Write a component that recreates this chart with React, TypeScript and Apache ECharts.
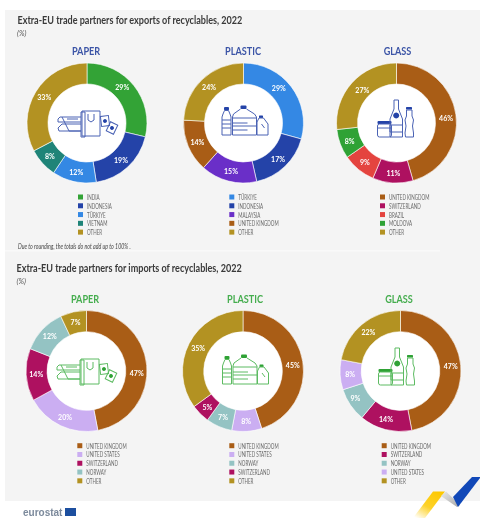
import React, { useEffect, useRef } from "react";
import * as echarts from "echarts";

const exportTitle = "Extra-EU trade partners for exports of recyclables, 2022";
const importTitle = "Extra-EU trade partners for imports of recyclables, 2022";
const unit = "(%)";
const note = "Due to rounding, the totals do not add up to 100% .";
const materials = ["PAPER", "PLASTIC", "GLASS"];

const expPaperNames = ["INDIA", "INDONESIA", "TÜRKIYE", "VIETNAM", "OTHER"];
const expPaperValues = [29, 19, 12, 8, 33];
const expPlasticNames = ["TÜRKIYE", "INDONESIA", "MALAYSIA", "UNITED KINGDOM", "OTHER"];
const expPlasticValues = [29, 17, 15, 14, 24];
const expGlassNames = ["UNITED KINGDOM", "SWITZERLAND", "BRAZIL", "MOLDOVA", "OTHER"];
const expGlassValues = [46, 11, 9, 8, 27];
const impPaperNames = ["UNITED KINGDOM", "UNITED STATES", "SWITZERLAND", "NORWAY", "OTHER"];
const impPaperValues = [47, 20, 14, 12, 7];
const impPlasticNames = ["UNITED KINGDOM", "UNITED STATES", "NORWAY", "SWITZERLAND", "OTHER"];
const impPlasticValues = [45, 8, 7, 5, 35];
const impGlassNames = ["UNITED KINGDOM", "SWITZERLAND", "NORWAY", "UNITED STATES", "OTHER"];
const impGlassValues = [47, 14, 9, 8, 22];

const partnerColors: Record<string, string> = {
  INDIA: "#33a336",
  INDONESIA: "#2443a8",
  "TÜRKIYE": "#3488e4",
  VIETNAM: "#1f8478",
  OTHER: "#b39222",
  "UNITED KINGDOM": "#a95d16",
  MALAYSIA: "#6a2fc8",
  SWITZERLAND: "#ae1160",
  BRAZIL: "#e4443f",
  MOLDOVA: "#2fa235",
  "UNITED STATES": "#cbaef2",
  NORWAY: "#94c3c3",
};

const FONT = "Lato, 'Liberation Sans', sans-serif";
const BLUE = "#3b54a6";
const GREEN = "#45ad4e";
const ICON_BLUE = "#4a62b4";
const ICON_GREEN = "#5dbb62";

type G = any;

function stroke(color: string) {
  return { stroke: color, fill: "none", lineWidth: 1 };
}
function rect(x: number, y: number, w: number, h: number, color: string, r = 0, extra: G = {}): G {
  return { type: "rect", shape: { x, y, width: w, height: h, r }, style: stroke(color), ...extra };
}
function solid(x: number, y: number, w: number, h: number, color: string, r = 0): G {
  return { type: "rect", shape: { x, y, width: w, height: h, r }, style: { fill: color } };
}
function poly(points: number[][], color: string): G {
  return { type: "polyline", shape: { points }, style: stroke(color) };
}
function dot(cx: number, cy: number, r: number, color: string): G {
  return { type: "circle", shape: { cx, cy, r }, style: { fill: color } };
}

function paperIcon(c: string, dark: string): G[] {
  const note1: G = {
    type: "group", x: 18, y: -2, rotation: 0.12,
    children: [rect(-4, -5, 8, 10, c), dot(0, 0, 2, dark)],
  };
  const note2: G = {
    type: "group", x: 25, y: 5, rotation: -0.45,
    children: [rect(-4, -5, 8, 10, c), dot(0, 0, 2, dark)],
  };
  return [
    poly([[-6, -6], [-27, -6], [-29, -4], [-29, -1], [-6, -1]], c),
    poly([[-25, -6], [-18, 8], [-6, 8]], c),
    poly([[-20, -4], [-9, -4]], c),
    poly([[-6, 8], [-28, 8], [-29, 5], [-25, 1], [-6, 1]], c),
    rect(-6, -11, 4, 25, c),
    rect(-5, -12, 18, 25, c),
    poly([[1, -9], [1, -3], [4, -1], [7, -3], [7, -9]], c),
    note1,
    note2,
  ];
}

function plasticIcon(c: string, dark: string): G[] {
  return [
    solid(-19.5, -16, 5, 3.2, dark, 1),
    poly([[-19, -12.5], [-20.5, -9], [-21.5, -6], [-21.5, 12], [-12.5, 12], [-12.5, -6], [-13.5, -9], [-15, -12.5], [-19, -12.5]], c),
    poly([[-21.5, -3], [-12.5, -3]], c),
    poly([[-21.5, 1], [-12.5, 1]], c),
    poly([[-21.5, 5], [-12.5, 5]], c),
    solid(-3, -17.5, 6, 3.5, dark, 1),
    poly([[-3, -14], [-10, -9], [-11, -6], [-11, 12], [13, 12], [13, -6], [11, -9], [3, -14]], c),
    poly([[-11, -5], [13, -5]], c),
    poly([[-11, 0], [4, 0]], c),
    poly([[-11, 3], [13, 3]], c),
    poly([[-11, 7], [4, 7]], c),
    solid(15.5, -7.5, 4, 2.5, dark, 0.6),
    poly([[15.5, -5], [13.5, -1], [13.5, 12], [24.5, 12], [24.5, 1], [20, -5], [15.5, -5]], c),
    poly([[18, 1], [21, 5]], c),
  ];
}

function glassIcon(c: string, dark: string): G[] {
  return [
    solid(-19, -2, 14, 3, dark, 1),
    rect(-19, 1, 14, 13, c, 2),
    poly([[-19, 5], [-5, 5]], c),
    poly([[-2.5, -23], [-2.5, -14], [-6.5, -4], [-6.5, 14], [6, 14], [6, -4], [2, -14], [2, -23], [-2.5, -23]], c),
    dot(-0.3, -7.5, 3, dark),
    rect(-6.5, 2, 12.5, 7, c),
    solid(9.5, -16, 6, 2.5, dark, 0.6),
    poly([[10, -13], [10, -7], [8.5, -3], [9.5, 3], [8.5, 10], [9, 14], [17, 14], [17, 10], [16, 3], [17, -3], [15.5, -7], [15.5, -13], [10, -13]], c),
  ];
}

const ICONS = [paperIcon, plasticIcon, glassIcon];

function text(x: number, y: number, t: string, font: string, fill: string, scaleX = 1, align = "left"): G {
  return { type: "text", x, y, scaleX, style: { text: t, font, fill, textAlign: align, textVerticalAlign: "middle" } };
}

const LEGEND_PITCH = 8.78;
const LABEL_INWARD = 2.5;

const charts = [
  { names: expPaperNames, values: expPaperValues, shift: [[-4, -5]], c: [87, 123], r: 60, leg: [78, 197], iconAt: [87, 123], mat: 0, head: [86, 50], color: BLUE, icon: ICON_BLUE, dark: "#2443a8" },
  { names: expPlasticNames, values: expPlasticValues, shift: [[-4.5, -5]], c: [243.5, 123], r: 60, leg: [229.3, 197], iconAt: [243.5, 123], mat: 1, head: [243, 50], color: BLUE, icon: ICON_BLUE, dark: "#2443a8" },
  { names: expGlassNames, values: expGlassValues, shift: [[0, 2], [0, 0], [0, 0], [0, 0], [3, 0]], c: [396.5, 123], r: 60, leg: [380, 197], iconAt: [396.5, 123], mat: 2, head: [397.5, 50], color: BLUE, icon: ICON_BLUE, dark: "#2443a8" },
  { names: impPaperNames, values: impPaperValues, shift: [[0, 7]], c: [86.5, 371], r: 60.5, leg: [77.3, 445.7], iconAt: [86, 371], mat: 0, head: [85, 298], color: GREEN, icon: ICON_GREEN, dark: "#2fa235" },
  { names: impPlasticNames, values: impPlasticValues, shift: [[0, 2]], c: [243, 371], r: 60.5, leg: [229.3, 445.7], iconAt: [244, 372], mat: 1, head: [245, 298], color: GREEN, icon: ICON_GREEN, dark: "#2fa235" },
  { names: impGlassNames, values: impGlassValues, shift: [[0, 0], [-2, -1], [-3.5, -1]], c: [400.5, 371], r: 60.5, leg: [381.7, 445.7], iconAt: [397.5, 371], mat: 2, head: [399, 298], color: GREEN, icon: ICON_GREEN, dark: "#2fa235" },
];

export default function App() {
  const ref = useRef<HTMLDivElement>(null);
  useEffect(() => {
    document.body.style.margin = "0";
    const chart = echarts.init(ref.current!, undefined, { renderer: "svg" });

    const graphics: G[] = [
      { type: "rect", z: -2, shape: { x: 5, y: 10, width: 475, height: 491 }, style: { fill: "#f4f4f4" } },
      { type: "rect", z: -1, shape: { x: 5, y: 250, width: 435, height: 1.5 }, style: { fill: "#f9f9f9" } },
      text(17.5, 19.5, exportTitle, `bold 12px ${FONT}`, "#3a3a3a", 0.755),
      text(17, 33, unit, `italic 7.5px ${FONT}`, "#555", 1),
      text(18, 246, note, `italic 6.6px ${FONT}`, "#444", 0.8),
      text(16.5, 267.5, importTitle, `bold 12px ${FONT}`, "#3a3a3a", 0.755),
      text(16.5, 281, unit, `italic 7.5px ${FONT}`, "#555", 1),
    ];
    charts.forEach((ch) => {
      graphics.push(text(ch.head[0], ch.head[1], materials[ch.mat], `bold 12px ${FONT}`, ch.color, 0.76, "center"));
      graphics.push({ type: "circle", shape: { cx: ch.c[0], cy: ch.c[1], r: ch.r * 0.66 }, style: { fill: "#ffffff" } });
      graphics.push({ type: "group", x: ch.iconAt[0], y: ch.iconAt[1], children: ICONS[ch.mat](ch.icon, ch.dark) });
      ch.names.forEach((name, i) => {
        const y = ch.leg[1] + i * LEGEND_PITCH;
        graphics.push({ type: "rect", shape: { x: ch.leg[0], y: y - 2.5, width: 5, height: 5 }, style: { fill: partnerColors[name] } });
        graphics.push(text(ch.leg[0] + 9, y, name, `7px ${FONT}`, "#6a6a6a", 0.65));
      });
    });
    graphics.push(
      text(23, 512.5, "eurostat", "bold 10px 'Liberation Sans', sans-serif", "#7c8a9c"),
      { type: "rect", shape: { x: 65, y: 508, width: 11, height: 8 }, style: { fill: "#1d4f9f" } },
      {
        type: "polygon",
        shape: { points: [[433, 491.5], [445, 491.5], [425, 518], [413, 518]] },
        style: { fill: new echarts.graphic.LinearGradient(0.8, 0, 0.1, 1, [{ offset: 0, color: "#fdc800" }, { offset: 0.55, color: "#fdd22a" }, { offset: 1, color: "#ffffff" }]) },
      },
      {
        type: "polygon",
        shape: { points: [[441, 496], [446, 491.5], [460, 505], [457, 507]] },
        style: { fill: new echarts.graphic.LinearGradient(0, 0, 1, 1, [{ offset: 0, color: "#e8e8e8" }, { offset: 1, color: "#a8a8a8" }]) },
      },
      {
        type: "polygon",
        shape: { points: [[472, 477], [480, 477], [480, 478], [458, 507], [453, 497]] },
        style: { fill: "#1148b8" },
      }
    );

    chart.setOption({
      animation: false,
      graphic: { elements: graphics },
      series: charts.map((ch) => ({
        type: "pie",
        center: ch.c,
        radius: [ch.r * 0.65, ch.r],
        startAngle: 90,
        clockwise: true,
        silent: true,
        avoidLabelOverlap: false,
        itemStyle: { borderColor: "#ffffff", borderWidth: 0.6 },
        label: {
          show: true,
          position: "inside",
          formatter: "{c}%",
          color: "#ffffff",
          fontFamily: FONT,
          fontWeight: "bold",
          fontSize: 7,
        },
        labelLine: { show: false },
        labelLayout: (p: any) => {
          const s = ch.shift[p.dataIndex] || [0, 0];
          const lr = p.labelRect;
          const vx = ch.c[0] - (lr.x + lr.width / 2);
          const vy = ch.c[1] - (lr.y + lr.height / 2);
          const d = Math.hypot(vx, vy) || 1;
          return { dx: s[0] + (vx / d) * LABEL_INWARD, dy: s[1] + (vy / d) * LABEL_INWARD };
        },
        data: ch.names.map((name, i) => ({
          name,
          value: ch.values[i],
          itemStyle: { color: partnerColors[name] },
        })),
      })),
    });
    return () => chart.dispose();
  }, []);
  return <div ref={ref} style={{ width: 480, height: 518, filter: "blur(0.4px)" }} />;
}
